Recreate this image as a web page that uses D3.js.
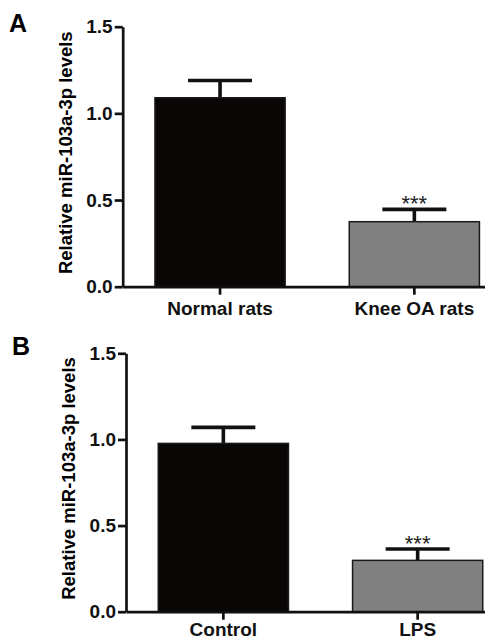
<!DOCTYPE html>
<html>
<head>
<meta charset="utf-8">
<script src="https://cdnjs.cloudflare.com/ajax/libs/d3/7.8.5/d3.min.js"></script>
<style>
  body { margin: 0; background: #fff; }
  svg { display: block; font-family: Arial, "Liberation Sans", sans-serif; }
  .axis path, .axis line { stroke: #111; stroke-width: 2.7; }
  .axis text { font-size: 19px; font-weight: bold; fill: #111; }
</style>
</head>
<body>
<div id="chart"></div>
<script>
// Panel A - rats
var catsA = ["Normal rats", "Knee OA rats"];
var meansA = [1.09, 0.375];
var errsA = [0.10, 0.071];
var starsA = ["", "***"];

// Panel B - cells
var catsB = ["Control", "LPS"];
var meansB = [0.977, 0.298];
var errsB = [0.093, 0.066];
var starsB = ["", "***"];

var yTicks = [0, 0.5, 1.0, 1.5];
var barColors = ["#0a0606", "#808080"];
var yTitle = "Relative miR-103a-3p levels";

var svg = d3.select("#chart").append("svg")
    .attr("width", 485)
    .attr("height", 640);

function drawPanel(letter, cats, means, errs, stars, box) {
    var g = svg.append("g");

    var x = d3.scaleBand()
        .domain(cats)
        .range([box.left, box.left + 389])
        .paddingInner(0.33)
        .paddingOuter(0.166);

    var y = d3.scaleLinear()
        .domain([0, 1.5])
        .range([box.bottom, box.top]);

    // panel letter
    g.append("text")
        .attr("x", box.letterX)
        .attr("y", box.letterY)
        .style("font-size", "25px")
        .style("font-weight", "bold")
        .text(letter);

    // y title
    g.append("text")
        .attr("transform", "translate(" + (box.left - 51) + "," + ((box.top + box.bottom) / 2 - 4) + ") rotate(-90)")
        .attr("text-anchor", "middle")
        .style("font-size", "18.5px")
        .style("font-weight", "bold")
        .text(yTitle);

    var rows = cats.map(function(c, i) {
        return {cat: c, mean: means[i], err: errs[i], star: stars[i], color: barColors[i]};
    });

    // error bars (upper whisker only)
    var eb = g.selectAll(".err").data(rows).enter().append("g").attr("class", "err");
    eb.append("line")
        .attr("x1", function(d) { return x(d.cat) + x.bandwidth() / 2; })
        .attr("x2", function(d) { return x(d.cat) + x.bandwidth() / 2; })
        .attr("y1", function(d) { return y(d.mean); })
        .attr("y2", function(d) { return y(d.mean + d.err); })
        .attr("stroke", "#111")
        .attr("stroke-width", 3.6);
    eb.append("line")
        .attr("x1", function(d) { return x(d.cat) + x.bandwidth() / 2 - 32; })
        .attr("x2", function(d) { return x(d.cat) + x.bandwidth() / 2 + 32; })
        .attr("y1", function(d) { return y(d.mean + d.err); })
        .attr("y2", function(d) { return y(d.mean + d.err); })
        .attr("stroke", "#111")
        .attr("stroke-width", 3.6);

    // bars
    g.selectAll(".bar").data(rows).enter().append("rect")
        .attr("class", "bar")
        .attr("x", function(d) { return x(d.cat); })
        .attr("width", x.bandwidth())
        .attr("y", function(d) { return y(d.mean); })
        .attr("height", function(d) { return y(0) - y(d.mean); })
        .attr("fill", function(d) { return d.color; })
        .attr("stroke", "#1a1a1a")
        .attr("stroke-width", 1.5);

    // significance marks
    g.selectAll(".star").data(rows).enter().append("text")
        .attr("class", "star")
        .attr("x", function(d) { return x(d.cat) + x.bandwidth() / 2; })
        .attr("y", function(d) { return y(d.mean + d.err) + 2; })
        .attr("text-anchor", "middle")
        .style("font-size", "22px")
        .style("fill", "#222")
        .text(function(d) { return d.star; });

    // axes
    g.append("g")
        .attr("class", "axis")
        .attr("transform", "translate(0," + box.bottom + ")")
        .call(d3.axisBottom(x).tickSize(8).tickSizeOuter(0).tickPadding(box.labelPad));

    g.append("g")
        .attr("class", "axis")
        .attr("transform", "translate(" + box.left + ",0)")
        .call(d3.axisLeft(y).tickValues(yTicks).tickFormat(d3.format(".1f"))
            .tickSize(8).tickSizeOuter(0).tickPadding(2));
}

drawPanel("A", catsA, meansA, errsA, starsA,
    {left: 122.7, top: 26.7, bottom: 286.7, letterX: 9, letterY: 32, labelPad: 7});
drawPanel("B", catsB, meansB, errsB, starsB,
    {left: 126, top: 353.3, bottom: 611.7, letterX: 12, letterY: 355, labelPad: 3});
</script>
</body>
</html>
